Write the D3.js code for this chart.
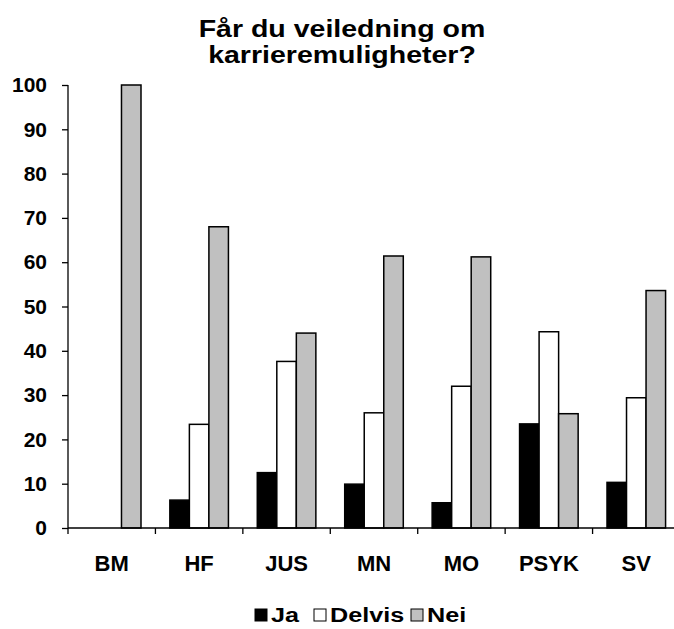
<!DOCTYPE html>
<html>
<head>
<meta charset="utf-8">
<script src="https://cdn.jsdelivr.net/npm/d3@7"></script>
<style>
  html, body { margin: 0; padding: 0; background: #fff; }
  svg { display: block; }
  text { font-family: "Liberation Sans", Arial, sans-serif; font-weight: bold; fill: #000; }
</style>
</head>
<body>
<svg id="chart" width="674" height="629"></svg>
<script>
const categories = ["BM", "HF", "JUS", "MN", "MO", "PSYK", "SV"];
const seriesNames = ["Ja", "Delvis", "Nei"];
const ja     = [0, 6.3, 12.5, 9.9, 5.7, 23.5, 10.3];
const delvis = [0, 23.4, 37.6, 26.0, 32.0, 44.3, 29.4];
const nei    = [100, 68.0, 44.0, 61.4, 61.2, 25.8, 53.6];
const yTicks = [0, 10, 20, 30, 40, 50, 60, 70, 80, 90, 100];
const titleLines = ["Får du veiledning om", "karrieremuligheter?"];
const colors = ["#000000", "#ffffff", "#c0c0c0"];

const seriesValues = [ja, delvis, nei];
const svg = d3.select("#chart");

const plotLeft = 68, plotRight = 680, plotTop = 85, plotBottom = 528;

const x0 = d3.scaleBand().domain(categories).range([plotLeft, plotRight]).paddingInner(0).paddingOuter(0);
const bw = x0.bandwidth();
const x1 = d3.scaleBand().domain(seriesNames).range([bw * 0.165, bw * 0.835]).padding(0);
const y = d3.scaleLinear().domain([0, 100]).range([plotBottom, plotTop]);

// Title (slightly wide lettering as in the reference)
const title = svg.append("g").attr("transform", "translate(342,0) scale(1.24,1)")
  .append("text").attr("text-anchor", "middle").style("font-size", "23px");
titleLines.forEach((t, i) => {
  title.append("tspan").attr("x", 0).attr("y", 37 + i * 26).text(t);
});

// Bars
const groups = svg.append("g").selectAll("g")
  .data(categories)
  .join("g")
  .attr("transform", d => `translate(${x0(d)},0)`);

groups.selectAll("rect")
  .data((d, i) => seriesNames.map((s, j) => ({ s, v: seriesValues[j][i], c: colors[j] })))
  .join("rect")
  .filter(d => d.v > 0)
  .attr("x", d => x1(d.s))
  .attr("y", d => y(d.v))
  .attr("width", x1.bandwidth())
  .attr("height", d => y(0) - y(d.v))
  .attr("fill", d => d.c)
  .attr("stroke", "#000")
  .attr("stroke-width", 1.5);

// Y axis
const yAxis = d3.axisLeft(y).tickValues(yTicks).tickSize(6).tickSizeOuter(0).tickPadding(15);
const yg = svg.append("g").attr("transform", `translate(${plotLeft},0)`).call(yAxis);
yg.select(".domain").attr("stroke", "#000").attr("stroke-width", 1.3).attr("d", `M0,${plotTop}V${plotBottom + 6}`);
yg.selectAll(".tick line").attr("stroke", "#000").attr("stroke-width", 1.3);
yg.selectAll(".tick text").style("font-size", "21px").style("font-family", "Liberation Sans, Arial, sans-serif").style("font-weight", "bold").attr("fill", "#000");

// X axis line + ticks at category boundaries
const xg = svg.append("g");
xg.append("line").attr("x1", plotLeft).attr("x2", plotRight).attr("y1", y(0)).attr("y2", y(0)).attr("stroke", "#000").attr("stroke-width", 1.3);
xg.selectAll("line.tk")
  .data(categories)
  .join("line")
  .attr("class", "tk")
  .attr("x1", d => x0(d) + bw)
  .attr("x2", d => x0(d) + bw)
  .attr("y1", y(0)).attr("y2", y(0) + 6)
  .attr("stroke", "#000").attr("stroke-width", 1.3);
xg.selectAll("text")
  .data(categories)
  .join("text")
  .attr("x", d => x0(d) + bw / 2)
  .attr("y", 571)
  .attr("text-anchor", "middle")
  .style("font-size", "22px")
  .text(d => d);

// Legend
const legend = svg.append("g").attr("transform", "translate(255,0)");
const legendX = [0, 59, 156];
seriesNames.forEach((s, i) => {
  const g = legend.append("g").attr("transform", `translate(${legendX[i]},0)`);
  g.append("rect").attr("x", 0).attr("y", 609).attr("width", 12).attr("height", 12)
    .attr("fill", colors[i]).attr("stroke", "#000").attr("stroke-width", 1);
  g.append("g").attr("transform", "translate(16,0) scale(1.2,1)")
    .append("text").attr("x", 0).attr("y", 622).style("font-size", "21px").text(s);
});
</script>
</body>
</html>
